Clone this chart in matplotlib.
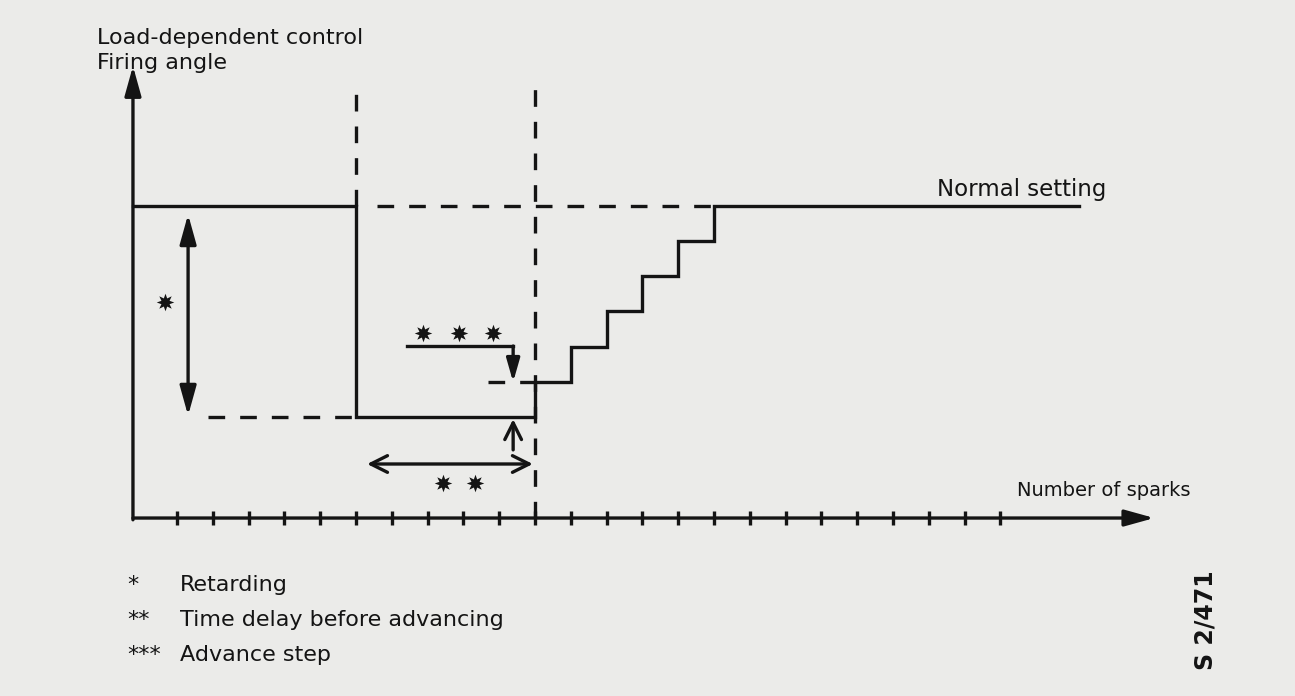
import numpy as np
import matplotlib
matplotlib.use("Agg")
import matplotlib.pyplot as plt

# spark ticks along the x axis (tick number = spark count)
sparks = np.arange(1, 25)

# firing angle curve: drop at spark 6, hold, then advance one step per spark
curve_x = [-0.23, 6, 6, 11, 11, 12, 12, 13, 13, 14, 14, 15, 15, 16, 16, 26.2]
curve_y = [8.85, 8.85, 2.85, 2.85, 3.85, 3.85, 4.85, 4.85, 5.85, 5.85,
           6.85, 6.85, 7.85, 7.85, 8.85, 8.85]

normal_level = 8.85
retard_level = 2.85
first_step = 3.85
retard_start = 6
advance_start = 11
advance_end = 16

ink = "#141414"
bg = "#ebebe9"
plt.rcParams["font.family"] = ["DejaVu Sans"]

fig = plt.figure(figsize=(12.95, 6.96), dpi=100)
fig.patch.set_facecolor(bg)
ax = fig.add_axes([0, 0, 1, 1])
ax.set_facecolor(bg)
ax.set_xlim(-3.944, 32.23)
ax.set_ylim(-5.04, 14.67)
ax.axis("off")

lw = 2.4
dash = (0, (5, 4.5))

# axes with arrows
ax.annotate("", xy=(28.3, 0), xytext=(-0.23, 0),
            arrowprops=dict(arrowstyle="-|>,head_length=0.9,head_width=0.25",
                            color=ink, lw=lw, mutation_scale=20, shrinkA=0, shrinkB=0))
ax.annotate("", xy=(-0.23, 12.8), xytext=(-0.23, -0.05),
            arrowprops=dict(arrowstyle="-|>,head_length=0.9,head_width=0.25",
                            color=ink, lw=lw, mutation_scale=20, shrinkA=0, shrinkB=0))
ax.plot(sparks, np.zeros_like(sparks), linestyle="none", marker="|",
        markersize=9.5, markeredgewidth=2.4, color=ink)

# firing angle curve
ax.plot(curve_x, curve_y, color=ink, lw=lw, solid_joinstyle="miter")

# dashed guide lines
ax.plot([retard_start, retard_start], [normal_level, 12.07], color=ink, lw=lw, linestyle=dash)
ax.plot([advance_start, advance_start], [0, 12.15], color=ink, lw=lw, linestyle=dash)
ax.plot([6.6, advance_end], [normal_level, normal_level], color=ink, lw=lw, linestyle=dash)
ax.plot([1.87, retard_start], [retard_level, retard_level], color=ink, lw=lw, linestyle=dash)
ax.plot([9.69, advance_start], [first_step, first_step], color=ink, lw=lw, linestyle=dash)

# * retarding arrow
ax.annotate("", xy=(1.31, retard_level + 0.05), xytext=(1.31, normal_level - 0.25),
            arrowprops=dict(arrowstyle="<|-|>,head_length=0.9,head_width=0.25",
                            color=ink, lw=lw, mutation_scale=20, shrinkA=0, shrinkB=0))

# *** advance step bracket
ax.plot([7.43, 10.39], [4.87, 4.87], color=ink, lw=lw)
ax.annotate("", xy=(10.39, first_step), xytext=(10.39, 4.87),
            arrowprops=dict(arrowstyle="-|>,head_length=0.7,head_width=0.2",
                            color=ink, lw=lw, mutation_scale=20, shrinkA=0, shrinkB=0))
# small up arrow to the retarded level
ax.annotate("", xy=(10.39, retard_level - 0.05), xytext=(10.39, 1.93),
            arrowprops=dict(arrowstyle="->,head_length=0.6,head_width=0.3",
                            color=ink, lw=lw, mutation_scale=20, shrinkA=0, shrinkB=0))
# ** time delay arrow
ax.annotate("", xy=(10.94, 1.53), xytext=(6.31, 1.53),
            arrowprops=dict(arrowstyle="<->,head_length=0.6,head_width=0.3",
                            color=ink, lw=lw, mutation_scale=20, shrinkA=0, shrinkB=0))

# star markers
star_x = [0.66, 7.87, 8.88, 9.83, 8.43, 9.32]
star_y = [6.12, 5.24, 5.24, 5.24, 0.99, 0.99]
ax.scatter(star_x, star_y, marker=(8, 1, 0), s=160, color=ink, linewidths=0, zorder=3)

# texts
fs = 16
ax.text(-1.23, 13.6, "Load-dependent control", fontsize=fs, color=ink, va="center", ha="left")
ax.text(-1.23, 12.89, "Firing angle", fontsize=fs, color=ink, va="center", ha="left")
ax.text(22.23, 9.29, "Normal setting", fontsize=16.5, color=ink, va="center", ha="left")
ax.text(24.46, 0.79, "Number of sparks", fontsize=14, color=ink, va="center", ha="left")

legend_marks = ["*", "**", "***"]
legend_texts = ["Retarding", "Time delay before advancing", "Advance step"]
legend_y = [-1.9, -2.89, -3.88]
for m, t, y in zip(legend_marks, legend_texts, legend_y):
    ax.text(-0.4, y, m, fontsize=fs, color=ink, va="center", ha="left")
    ax.text(1.08, y, t, fontsize=fs, color=ink, va="center", ha="left")

ax.text(29.72, -2.89, "S 2/471", fontsize=17, color=ink, va="center", ha="center",
        rotation=90, fontweight="bold")

fig.savefig("out.png", dpi=100, facecolor=bg)
